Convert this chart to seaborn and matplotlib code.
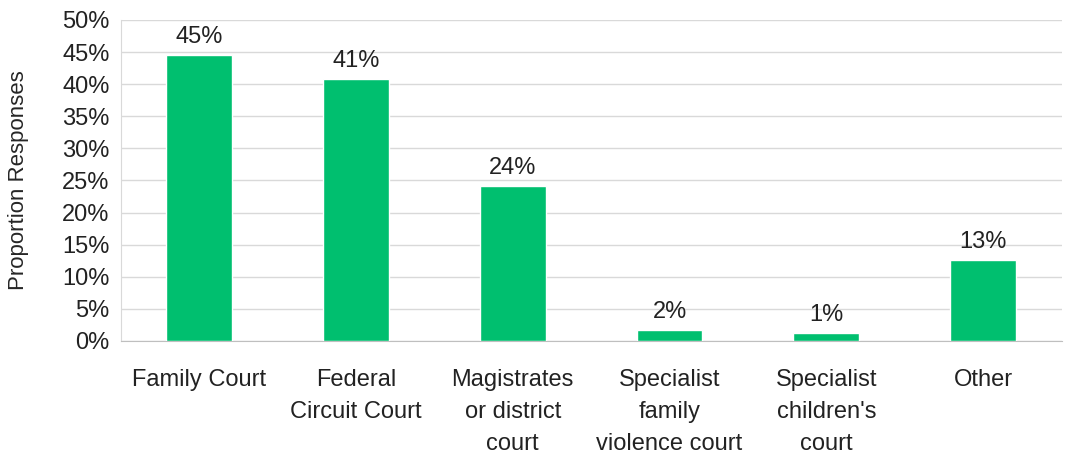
import matplotlib
matplotlib.use('Agg')
import matplotlib.pyplot as plt
import pandas as pd
import seaborn as sns
from matplotlib.ticker import FixedLocator, PercentFormatter

categories = ['Family Court', 'Federal\nCircuit Court', 'Magistrates\nor district\ncourt',
              'Specialist\nfamily\nviolence court', 'Specialist\nchildren\'s\ncourt', 'Other']
values = [44.5, 40.8, 24.1, 1.7, 1.25, 12.6]
labels = ['45%', '41%', '24%', '2%', '1%', '13%']

df = pd.DataFrame({'court': categories, 'pct': values})

sns.set_style('white')
plt.rcParams['font.family'] = ['Liberation Sans', 'DejaVu Sans']

fig = plt.figure(figsize=(10.67, 4.54), dpi=100)
ax = fig.add_axes([0.113, 0.249, 0.882, 0.707])

sns.barplot(data=df, x='court', y='pct', color='#00BF6F', width=0.42,
            saturation=1, ax=ax, zorder=3)

for i, (v, lab) in enumerate(zip(values, labels)):
    ax.text(i, v + 1.1, lab, ha='center', va='bottom', fontsize=17, color='#222222')

ax.set_ylim(0, 50)
ax.set_xlim(-0.5, 5.5)
ax.set_yticks(range(0, 51, 5))
ax.yaxis.set_major_formatter(PercentFormatter(decimals=0))
ax.yaxis.grid(True, color='#D9D9D9', linewidth=1, zorder=0)
ax.set_xlabel('')
ax.set_ylabel('Proportion Responses', fontsize=16, labelpad=24)
ax.tick_params(axis='y', labelsize=17, length=0, pad=8)
ax.tick_params(axis='x', which='major', labelsize=17, length=0, pad=20)
for t in ax.get_xticklabels():
    t.set_linespacing(1.6)
    t.set_color('#222222')
for t in ax.get_yticklabels():
    t.set_color('#222222')
ax.xaxis.set_minor_locator(FixedLocator([i - 0.5 for i in range(7)]))
ax.tick_params(axis='x', which='minor', length=8, color='#BFBFBF', width=1)

for s in ['top', 'right']:
    ax.spines[s].set_visible(False)
ax.spines['left'].set_color('#D9D9D9')
ax.spines['bottom'].set_color('#BFBFBF')

plt.savefig('out.png', dpi=100)
